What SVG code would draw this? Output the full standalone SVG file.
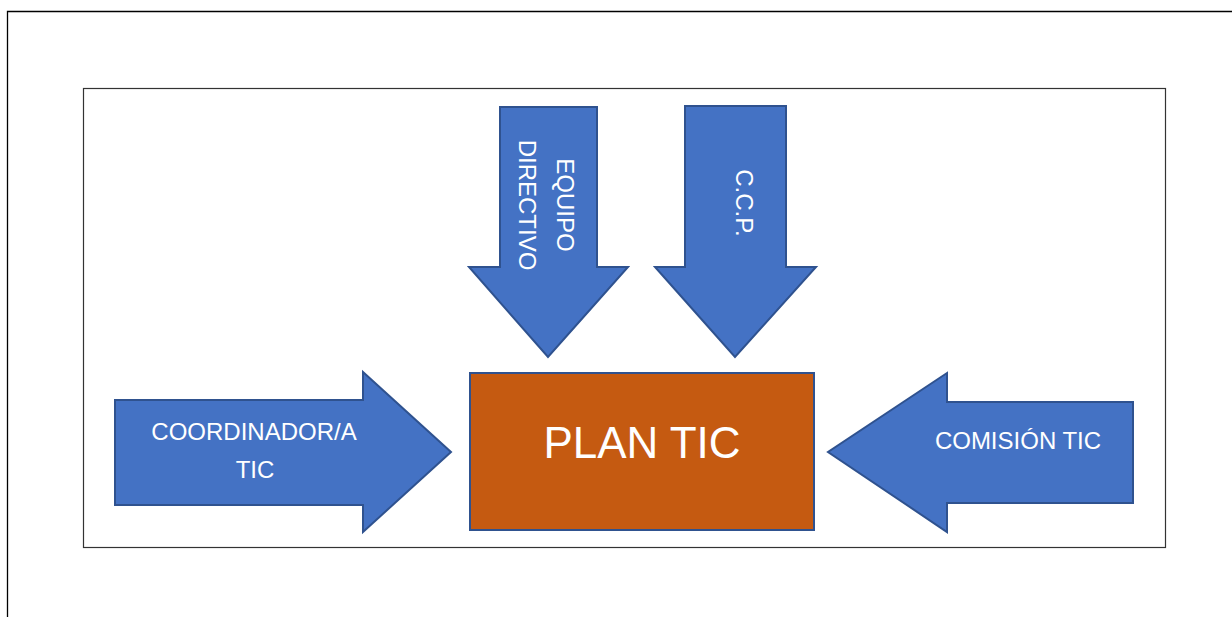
<svg xmlns="http://www.w3.org/2000/svg" width="1232" height="617" viewBox="0 0 1232 617">
<style>
.frame{fill:none;stroke:#000;stroke-width:1.3}
.inner{fill:#fff;stroke:#333;stroke-width:1.2}
.arrow{fill:#4472C4;stroke:#2F528F;stroke-width:2;stroke-linejoin:miter}
.box{fill:#C55A11;stroke:#2F528F;stroke-width:2}
.t{font-family:"Liberation Sans",Arial,sans-serif;font-size:24px;fill:#fff;text-anchor:middle}
.big{font-size:44px}
</style>
<rect width="1232" height="617" fill="#fff"/>
<path class="frame" d="M7.5,617 V11.5 H1232"/>
<rect class="inner" x="83.5" y="88.5" width="1082" height="459"/>
<g id="connectors">
<g id="equipo-directivo">
<polygon class="arrow" points="500,107 597,107 597,267 628,267 548,357 469,267 500,267"/>
<text class="t" transform="translate(557,205) rotate(90)">EQUIPO</text>
<text class="t" transform="translate(519,205) rotate(90)">DIRECTIVO</text>
</g>
<g id="ccp">
<polygon class="arrow" points="685,106 786,106 786,267 816,267 735,357 655,267 685,267"/>
<text class="t" transform="translate(736,203) rotate(90)">C.C.P.</text>
</g>
<g id="coordinador">
<polygon class="arrow" points="115,400 363,400 363,372 451,452 363,532 363,505 115,505"/>
<text class="t" x="254" y="440">COORDINADOR/A</text>
<text class="t" x="255" y="478">TIC</text>
</g>
<g id="comision">
<polygon class="arrow" points="1133,402 947,402 947,373 828,452 947,532 947,503 1133,503"/>
<text class="t" x="1018" y="449">COMISIÓN TIC</text>
</g>
</g>
<g id="plan-tic">
<rect class="box" x="470" y="373" width="344" height="157"/>
<text class="t big" x="642" y="458">PLAN TIC</text>
</g>
</svg>
